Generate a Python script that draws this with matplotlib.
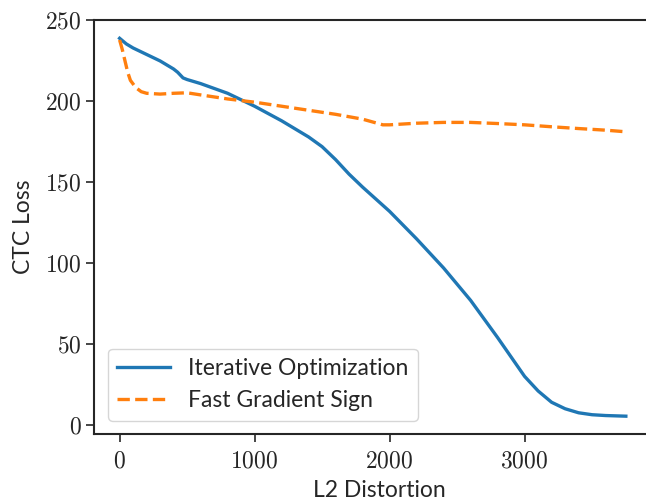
import matplotlib
matplotlib.use('Agg')
import matplotlib.pyplot as plt
from matplotlib.ticker import FuncFormatter

plt.rcParams['mathtext.fontset'] = 'cm'
plt.rcParams['font.family'] = ['Lato', 'DejaVu Sans']

# Iterative Optimization (solid blue)
iter_x = [0, 50, 100, 200, 300, 400, 430, 470, 500, 600, 700, 800, 1000, 1200, 1400,
          1500, 1600, 1700, 1800, 2000, 2200, 2400, 2600, 2800, 2900, 3000, 3100,
          3200, 3300, 3400, 3500, 3600, 3750]
iter_y = [239, 235.5, 233, 229, 225, 220, 218, 214.5, 213.5, 211, 208, 205, 197, 188, 178,
          172, 164, 155, 147, 132, 115, 97, 77, 54, 42, 30, 21,
          14, 10, 7.5, 6.3, 5.8, 5.4]

# Fast Gradient Sign (dashed orange)
fgs_x = [0, 20, 40, 60, 80, 120, 160, 200, 300, 400, 500, 600, 800, 1000, 1200, 1400,
         1600, 1800, 1950, 2000, 2200, 2400, 2600, 2800, 3000, 3200, 3400, 3600, 3750]
fgs_y = [238, 232, 225, 218, 213, 208.5, 206, 205, 204.5, 205, 205.3, 204, 201.5, 199.5, 197, 194.5,
         192, 189, 185.5, 185.5, 186.5, 187, 187, 186.3, 185.5, 184.3, 183.2, 182.2, 181.2]

W, H = 646, 503
fig = plt.figure(figsize=(W / 100, H / 100), dpi=100)
left, right, top, bottom = 94.3, 665, 20, 434.3
ax = fig.add_axes([left / W, 1 - bottom / H, (right - left) / W, (bottom - top) / H])

ax.plot(iter_x, iter_y, color='#1f77b4', lw=2.4, label='Iterative Optimization')
ax.plot(fgs_x, fgs_y, color='#ff7f0e', lw=2.4, ls='--', label='Fast Gradient Sign')

# x scale: 0 -> px 119.6, 135 px per 1000
ax.set_xlim((left - 119.6) / 0.135, (right - 119.6) / 0.135)
ax.set_ylim(-5.8, 250.3)
ax.set_xticks([0, 1000, 2000, 3000])
ax.set_yticks([0, 50, 100, 150, 200, 250])
fmt = FuncFormatter(lambda v, p: r'$%d$' % v)
ax.xaxis.set_major_formatter(fmt)
ax.yaxis.set_major_formatter(fmt)
ax.tick_params(labelsize=17, width=1.2, length=5.5, colors='#262626')
ax.tick_params(axis='x', pad=6)
for s in ax.spines.values():
    s.set_linewidth(1.5)
    s.set_color('#262626')
ax.spines['right'].set_visible(False)  # lies beyond the cropped edge anyway

ax.set_xlabel('L2 Distortion', fontsize=16.5, labelpad=6, color='#262626')
ax.set_ylabel('CTC Loss', fontsize=16.5, labelpad=8, color='#262626')
ax.legend(loc='lower left', fontsize=16.5, handlelength=2.3, borderaxespad=0.6,
          labelcolor='#262626')

fig.savefig('out.png', dpi=100)
